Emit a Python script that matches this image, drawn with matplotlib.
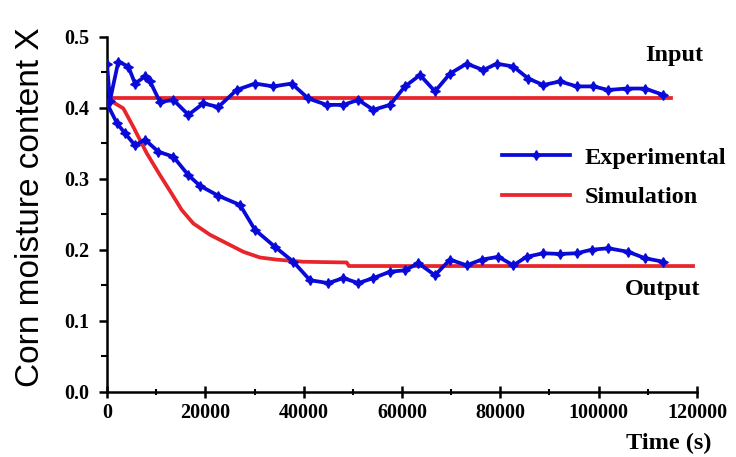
import matplotlib.pyplot as plt
from matplotlib.ticker import MultipleLocator

# experimental input (upper blue curve)
t_in = [0, 600, 2300, 4330, 5700, 7730, 8750, 10780, 13490, 16540, 19590, 22640,
        26370, 30100, 33830, 37560, 40940, 44680, 48060, 51110, 54160, 57560,
        60610, 63660, 66710, 69760, 73150, 76540, 79260, 82640, 85690, 88740,
        92140, 95530, 98910, 101960, 105700, 109420, 113150]
x_in = [0.462, 0.410, 0.465, 0.458, 0.434, 0.444, 0.437, 0.408, 0.411, 0.390, 0.406, 0.401,
        0.425, 0.434, 0.430, 0.434, 0.413, 0.404, 0.404, 0.411, 0.397, 0.404,
        0.430, 0.446, 0.423, 0.448, 0.462, 0.453, 0.462, 0.458, 0.441, 0.432,
        0.437, 0.430, 0.430, 0.425, 0.427, 0.427, 0.418]

# experimental output (lower blue curve)
t_out = [0, 2030, 3660, 5700, 7730, 10440, 13490, 16540, 18910, 22640, 27050, 30100,
         34170, 37900, 41290, 45000, 48060, 51110, 54160, 57560, 60610, 63320,
         66710, 69760, 73150, 76200, 79600, 82640, 85350, 88740, 92140, 95530,
         98570, 101960, 106040, 109420, 113150]
x_out = [0.406, 0.378, 0.364, 0.347, 0.355, 0.338, 0.331, 0.305, 0.290, 0.276, 0.263, 0.228,
         0.204, 0.183, 0.157, 0.153, 0.160, 0.153, 0.160, 0.169, 0.171, 0.181,
         0.164, 0.186, 0.178, 0.186, 0.190, 0.178, 0.190, 0.195, 0.194, 0.195,
         0.200, 0.202, 0.197, 0.188, 0.183]

# simulation
t_sim_in = [0, 114800]
x_sim_in = [0.413, 0.413]
t_sim_out = [0, 3320, 5350, 8070, 10780, 13150, 15190, 17550, 20950, 24350, 27730,
             31120, 34510, 39930, 48750, 49200, 119200]
x_sim_out = [0.413, 0.399, 0.373, 0.336, 0.305, 0.279, 0.256, 0.237, 0.221, 0.209, 0.197,
             0.189, 0.186, 0.183, 0.182, 0.177, 0.177]

blue = '#0a0ad8'
red = '#e8252b'
serif = {'family': 'Liberation Serif', 'weight': 'bold'}

fig = plt.figure(figsize=(7.36, 4.57), dpi=100)
ax = fig.add_axes([0.1454, 0.1429, 0.8016, 0.7768])

mk = dict(color=blue, lw=2.7, marker=(4, 1, 0), ms=7, zorder=3)
ax.plot(t_in, x_in, label='Experimental', **mk)
ax.plot(t_out, x_out, **mk)
ax.plot(t_sim_in, x_sim_in, color=red, lw=2.7, label='Simulation', zorder=2)
ax.plot(t_sim_out, x_sim_out, color=red, lw=2.7, zorder=2)

ax.set_xlim(0, 120000)
ax.set_ylim(0, 0.5)
ax.xaxis.set_major_locator(MultipleLocator(20000))
ax.xaxis.set_minor_locator(MultipleLocator(10000))
ax.yaxis.set_major_locator(MultipleLocator(0.1))
ax.yaxis.set_minor_locator(MultipleLocator(0.05))
ax.yaxis.set_major_formatter(lambda v, p: f'{v:.1f}')

for s in ['top', 'right']:
    ax.spines[s].set_visible(False)
for s in ['left', 'bottom']:
    ax.spines[s].set_linewidth(1.8)

ax.tick_params(axis='x', which='major', direction='inout', length=9, width=1.8)
ax.tick_params(axis='x', which='minor', direction='inout', length=5, width=1.5)
ax.tick_params(axis='y', which='major', direction='out', length=6, width=1.8, pad=7)
ax.tick_params(axis='y', which='minor', direction='out', length=4, width=1.5)
for lab in ax.get_xticklabels() + ax.get_yticklabels():
    lab.set_fontfamily('Liberation Serif')
    lab.set_fontweight('bold')
    lab.set_fontsize(14.5)

ax.set_ylabel('Corn moisture content X', fontfamily='Liberation Sans', fontsize=24,
              va='center')
ax.yaxis.set_label_coords(-0.129, 0.52)
ax.text(1.025, -0.1445, 'Time (s)', transform=ax.transAxes, ha='right', va='center',
        fontsize=17.5, **serif)

ax.text(1.010, 0.948, 'Input', transform=ax.transAxes, ha='right', va='center',
        fontsize=17.5, **serif)
ax.text(1.005, 0.287, 'Output', transform=ax.transAxes, ha='right', va='center',
        fontsize=17.5, **serif)

ax.legend(loc='upper left', bbox_to_anchor=(0.669, 0.690), frameon=False,
          borderaxespad=0, borderpad=0, handlelength=2.8, handletextpad=0.62,
          labelspacing=0.72, prop={'family': 'Liberation Serif', 'weight': 'bold', 'size': 17.5})

fig.savefig('out.png', dpi=100)
